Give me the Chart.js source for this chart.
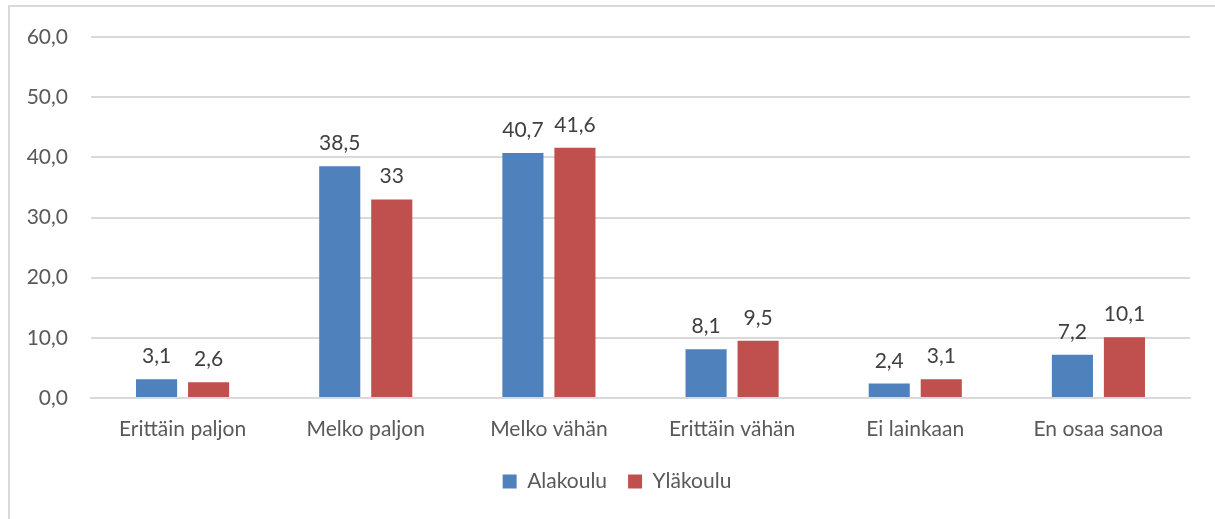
<!DOCTYPE html>
<html>
<head>
<meta charset="utf-8">
<script src="https://cdn.jsdelivr.net/npm/chart.js@4.4.1/dist/chart.umd.min.js"></script>
<style>
  html, body { margin: 0; padding: 0; background: #fff; overflow: hidden; }
  #frame {
    position: absolute; left: 8px; top: 5px; width: 1300px; height: 600px;
    border: 2px solid #d9d9d9; box-sizing: border-box;
  }
  #wrap { position: absolute; left: 0; top: 0; width: 1215px; height: 519px; }
</style>
</head>
<body>
<div id="frame"></div>
<div id="wrap"><canvas id="chart"></canvas></div>
<script>
// ---------- Data ----------
const categories = ["Erittäin paljon", "Melko paljon", "Melko vähän", "Erittäin vähän", "Ei lainkaan", "En osaa sanoa"];
const alakoulu = [3.1, 38.5, 40.7, 8.1, 2.4, 7.2];
const ylakoulu = [2.6, 33, 41.6, 9.5, 3.1, 10.1];
const seriesNames = ["Alakoulu", "Yläkoulu"];
const yTicks = [0, 10, 20, 30, 40, 50, 60];

const FONT = "Lato, 'Open Sans', sans-serif";
const TEXT = "#595959";

const fmt = v => String(v).replace(".", ",");

// value labels above bars
const valueLabels = {
  id: "valueLabels",
  afterDatasetsDraw(chart) {
    const { ctx } = chart;
    ctx.save();
    ctx.font = "21px " + FONT;
    ctx.fillStyle = "#404040";
    ctx.textAlign = "center";
    ctx.textBaseline = "alphabetic";
    chart.data.datasets.forEach((ds, i) => {
      chart.getDatasetMeta(i).data.forEach((bar, j) => {
        ctx.fillText(fmt(ds.data[j]), bar.x, bar.y - 16);
      });
    });
    ctx.restore();
  },
};

// legend sits a bit right of the plot centre in the original
const legendShift = {
  id: "legendShift",
  afterLayout(chart) {
    if (chart.legend) {
      chart.legend.left += 22;
      chart.legend.right += 22;
    }
  },
};

new Chart(document.getElementById("chart"), {
  type: "bar",
  data: {
    labels: categories,
    datasets: [
      { label: seriesNames[0], data: alakoulu, backgroundColor: "#4f81bd" },
      { label: seriesNames[1], data: ylakoulu, backgroundColor: "#c0504d" },
    ],
  },
  options: {
    responsive: true,
    maintainAspectRatio: false,
    animation: false,
    devicePixelRatio: 1,
    categoryPercentage: 0.568,
    barPercentage: 0.79,
    layout: { padding: { top: 37, right: 25, bottom: 17, left: 0 } },
    plugins: {
      tooltip: { enabled: false },
      legend: {
        position: "bottom",
        labels: {
          color: TEXT,
          font: { family: FONT, size: 21 },
          boxWidth: 14,
          boxHeight: 14,
          padding: 21,
        },
      },
    },
    scales: {
      x: {
        grid: { display: false },
        border: { color: "#d9d9d9", width: 2 },
        ticks: { color: TEXT, font: { family: FONT, size: 21 }, padding: 11, maxRotation: 0 },
        afterFit(s) { s.height = 52; },
      },
      y: {
        min: 0,
        max: 60,
        afterBuildTicks(s) { s.ticks = yTicks.map(v => ({ value: v })); },
        grid: { color: "#d9d9d9", lineWidth: 2, drawTicks: false },
        border: { display: false },
        ticks: {
          color: TEXT,
          font: { family: FONT, size: 21 },
          padding: 23,
          callback: v => v.toFixed(1).replace(".", ","),
        },
        afterFit(s) { s.width = 91; },
      },
    },
  },
  plugins: [valueLabels, legendShift],
});
</script>
</body>
</html>
